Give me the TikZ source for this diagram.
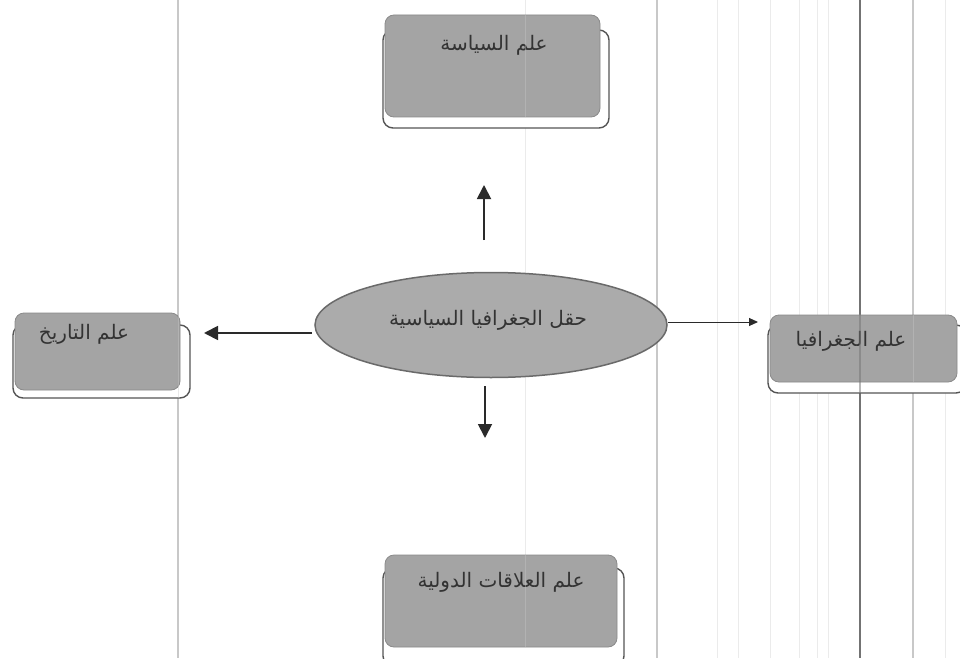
\documentclass[tikz,border=0pt]{standalone}
\usepackage{fontspec}
\TeXXeTstate=1
\newfontfamily\arabicfont[Script=Arabic]{DejaVu Sans}
\usetikzlibrary{shapes.geometric,arrows.meta}
\definecolor{boxgray}{HTML}{A4A4A4}
\definecolor{boxedge}{HTML}{8A8A8A}
\definecolor{shadowedge}{HTML}{555555}
\definecolor{ellgray}{HTML}{ABABAB}
\definecolor{elledge}{HTML}{6A6A6A}
\definecolor{scanline}{HTML}{C8C8C8}
\definecolor{scanfaint}{HTML}{EBEBEB}
\definecolor{arrowcol}{HTML}{2A2A2A}
\tikzset{
  boxshape/.style={draw=boxedge, fill=boxgray, rounded corners=9pt, line width=0.8pt},
  shadowshape/.style={draw=shadowedge, fill=white, rounded corners=10pt, line width=1.4pt},
  lbl/.style={font=\arabicfont\fontsize{20}{24}\selectfont, text=black!80, inner sep=0pt},
  ellshape/.style={ellipse, draw=elledge, fill=ellgray, line width=1.5pt, minimum width=352pt, minimum height=105pt, inner sep=0pt},
  arr/.style={draw=arrowcol, line width=1.8pt, -{Triangle[length=14pt,width=14pt]}},
  arrthin/.style={draw=arrowcol, line width=1pt, -{Triangle[length=9pt,width=8pt]}},
  scan/.style={draw=scanline, line width=1.2pt},
  scanf/.style={draw=scanfaint, line width=1pt}
}
\newcommand{\ar}[1]{{\arabicfont\beginR #1\endR}}
\begin{document}
\begin{tikzpicture}[x=1pt,y=-1pt]
\useasboundingbox (0,0) rectangle (960,658);
\fill[white] (0,0) rectangle (960,658);
% scan lines of the background
\foreach \xx in {525,717,738,770,799,817,828,945}{\draw[scanf] (\xx,0) -- (\xx,658);}
\foreach \xx in {178,657,913}{\draw[scan] (\xx,0) -- (\xx,658);}
\draw[draw=black!55, line width=1.4pt] (860,0) -- (860,658);
% top box
\draw[shadowshape] (383,30) rectangle (609,128);
\draw[boxshape] (385,15) rectangle (600,117);
\node[lbl] (pol) at (494,45) {\ar{علم السياسة}};
% left box
\draw[shadowshape] (13,325) rectangle (190,398);
\draw[boxshape] (15,313) rectangle (180,390);
\node[lbl] (hist) at (84,334) {\ar{علم التاريخ}};
% right box
\draw[shadowshape] (768,325) rectangle (966,393);
\draw[boxshape] (770,315) rectangle (957,382);
\node[lbl] (geo) at (851,341) {\ar{علم الجغرافيا}};
% bottom box
\draw[shadowshape] (383,568) rectangle (624,666);
\draw[boxshape] (385,555) rectangle (617,647);
\node[lbl] (ir) at (501,582) {\ar{علم العلاقات الدولية}};
% scan lines seen through the boxes
\draw[draw=black!55, line width=1.2pt, opacity=0.5] (860,315) -- (860,393);
\draw[draw=scanline, line width=1pt, opacity=0.4] (525,15) -- (525,117) (525,555) -- (525,647) (913,315) -- (913,382) (178,313) -- (178,398);
% centre ellipse
\node[ellshape] (field) at (491,325) {};
\node[lbl] (fieldtxt) at (488,320) {\ar{حقل الجغرافيا السياسية}};
% arrows
\coordinate (upA) at (484,240); \coordinate (upB) at (484,185);
\coordinate (dnA) at (485,386); \coordinate (dnB) at (485,438);
\coordinate (lfA) at (312,333); \coordinate (lfB) at (204,333);
\coordinate (rtA) at (668,322); \coordinate (rtB) at (758,322);
\draw[arr] (upA) -- (upB);
\draw[arr] (dnA) -- (dnB);
\draw[arr] (lfA) -- (lfB);
\draw[arrthin] (rtA) -- (rtB);
\end{tikzpicture}
\end{document}
